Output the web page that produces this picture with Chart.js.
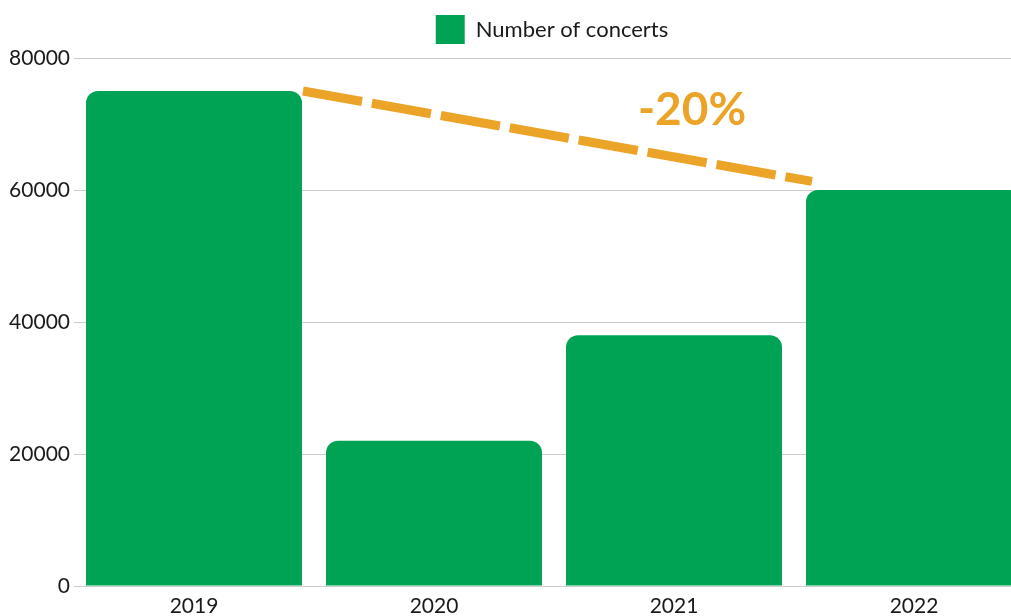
<!DOCTYPE html>
<html>
<head>
<meta charset="utf-8">
<script src="https://cdn.jsdelivr.net/npm/chart.js@4"></script>
<style>
html, body { margin: 0; padding: 0; overflow: hidden; background: #fff; }
#wrap { width: 1104px; height: 616px; position: relative; }
</style>
</head>
<body>
<div id="wrap"><canvas id="c"></canvas></div>
<script>
const categories = ['2019', '2020', '2021', '2022'];
const concerts = [75000, 22000, 38000, 60000];
const seriesName = 'Number of concerts';
const yTicks = [0, 20000, 40000, 60000, 80000];
// trend line endpoints in category-index units / values
const trendX = [0.454, 2.575];
const trendY = [75000, 61300];
const trendLabel = '-20%';
const trendLabelPos = { x: 2.075, y: 72100 };

const GREEN = '#00a354';
const ORANGE = '#eba427';
const FONT = 'Lato, "Noto Sans", sans-serif';

const labelPlugin = {
  id: 'trendLabel',
  afterInit(chart) {
    const lg = chart.legend;
    if (lg && !lg._patched) {
      const orig = lg.fit;
      lg.fit = function () { orig.call(this); this.height += 4; };
      lg._patched = true;
    }
  },
  afterDatasetsDraw(chart) {
    const ctx = chart.ctx;
    const x = chart.scales.x2.getPixelForValue(trendLabelPos.x);
    const y = chart.scales.y.getPixelForValue(trendLabelPos.y);
    ctx.save();
    ctx.font = 'bold 46px ' + FONT;
    ctx.fillStyle = ORANGE;
    ctx.textAlign = 'center';
    ctx.textBaseline = 'middle';
    ctx.fillText(trendLabel, x, y);
    ctx.restore();
  }
};

new Chart(document.getElementById('c'), {
  type: 'bar',
  data: {
    labels: categories,
    datasets: [
      {
        label: seriesName,
        data: concerts,
        backgroundColor: GREEN,
        borderWidth: 0,
        borderRadius: { topLeft: 12, topRight: 12, bottomLeft: 0, bottomRight: 0 },
        borderSkipped: 'start',
        grouped: false,
        categoryPercentage: 0.9,
        barPercentage: 1.0,
        order: 2
      },
      {
        type: 'line',
        label: 'trend',
        xAxisID: 'x2',
        data: trendX.map((x, i) => ({ x: x, y: trendY[i] })),
        borderColor: ORANGE,
        borderWidth: 9,
        borderDash: [60, 10],
        borderCapStyle: 'butt',
        pointRadius: 0,
        fill: false,
        order: 1
      }
    ]
  },
  options: {
    responsive: true,
    maintainAspectRatio: false,
    animation: false,
    layout: { padding: 0 },
    plugins: {
      legend: {
        position: 'top',
        labels: {
          filter: item => item.datasetIndex === 0,
          boxWidth: 29,
          boxHeight: 29,
          padding: 15,
          color: '#1a1a1a',
          font: { family: FONT, size: 22 }
        }
      },
      tooltip: { enabled: false }
    },
    scales: {
      x: {
        type: 'category',
        grid: { display: false, drawTicks: false },
        border: { display: true, color: '#cccccc' },
        ticks: { color: '#1a1a1a', font: { family: FONT, size: 21 }, padding: 8 },
        afterFit: s => { s.height = 30; }
      },
      x2: {
        type: 'linear',
        display: false,
        offset: false,
        grid: { offset: false },
        min: -0.5,
        max: 3.5
      },
      y: {
        min: 0,
        max: 80000,
        afterBuildTicks: s => { s.ticks = yTicks.map(v => ({ value: v })); },
        grid: { color: '#cccccc', lineWidth: 1, drawTicks: false },
        border: { display: false },
        ticks: {
          color: '#1a1a1a',
          font: { family: FONT, size: 21 },
          padding: 4,
          callback: v => String(v)
        },
        afterFit: s => { s.width = 74; }
      },
      y2: {
        type: 'linear',
        position: 'right',
        min: 0,
        max: 80000,
        grid: { display: false, drawTicks: false },
        border: { display: false },
        ticks: { display: false },
        afterFit: s => { s.width = 70; }
      }
    }
  },
  plugins: [labelPlugin]
});
</script>
</body>
</html>
